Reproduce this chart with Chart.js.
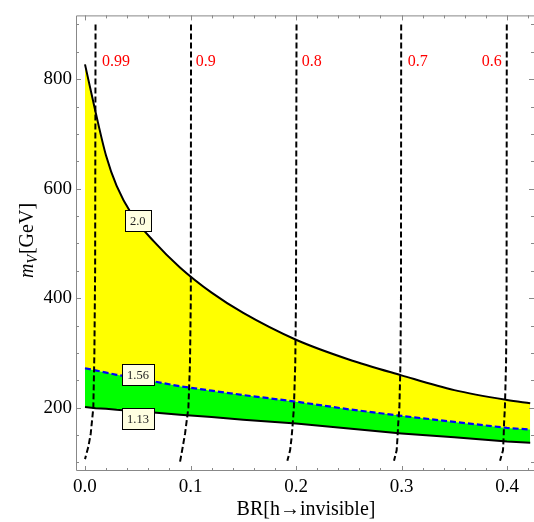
<!DOCTYPE html>
<html><head><meta charset="utf-8">
<script src="https://cdn.jsdelivr.net/npm/chart.js@4"></script>
<style>html,body{margin:0;padding:0;background:#fff}</style>
</head><body>
<canvas id="c" width="534" height="522"></canvas>
<script>
// ---- data ----
const brX    = [0, 0.01, 0.02, 0.03, 0.045, 0.065, 0.09, 0.12, 0.15, 0.2, 0.25, 0.3, 0.35, 0.4, 0.422];
const mUpper = [827, 740, 660, 605, 551, 504, 456, 410, 373, 324, 288, 259, 232, 214, 208];   // contour 2.0
const mMid   = [272, 268, 264, 260, 255, 248, 239, 231, 223, 211, 197, 185, 174, 163, 160];   // contour 1.56
const mLower = [201, 199, 198, 196, 194, 191, 187, 183, 178, 171, 162, 153, 146, 138, 136];   // contour 1.13

const c099x = [0.0100, 0.0096, 0.0089, 0.0079, 0.0054, 0.0031, 0.0];
const c099y = [900, 450, 300, 200, 152, 128, 106];
const c09x  = [0.1005, 0.1003, 0.0995, 0.0980, 0.0948, 0.0926, 0.0900];
const c09y  = [900, 400, 280, 200, 152, 128, 100];
const cYs   = [900, 400, 280, 200, 171, 145, 122, 103];
const c08x  = [0.2005, 0.2000, 0.1993, 0.1980, 0.1969, 0.1958, 0.1944, 0.1918];
const c07x  = [0.2997, 0.2995, 0.2990, 0.2980, 0.2969, 0.2962, 0.2954, 0.2929];
const c06x  = [0.3998, 0.3996, 0.3991, 0.3980, 0.3972, 0.3968, 0.3962, 0.3934];
const contourNames = ['0.99', '0.9', '0.8', '0.7', '0.6'];
const bandNames = ['2.0', '1.56', '1.13'];

const xTicks = [0, 0.1, 0.2, 0.3, 0.4];
const yTicks = [200, 400, 600, 800];

// ---- helpers ----
const pts = (xs, ys) => xs.map((v, i) => ({x: v, y: ys[i]}));
const dashed = (xs, ys) => ({data: pts(xs, ys), showLine: true, borderColor: '#000', borderWidth: 2,
  borderDash: [6, 3], pointRadius: 0, fill: false, tension: 0, order: 0});

// annotation placement (data coordinates)
const redLabels = [
  {t: contourNames[0], x: 0.0160, y: 831, align: 'left'},
  {t: contourNames[1], x: 0.1050, y: 831, align: 'left'},
  {t: contourNames[2], x: 0.2054, y: 831, align: 'left'},
  {t: contourNames[3], x: 0.3059, y: 831, align: 'left'},
  {t: contourNames[4], x: 0.3950, y: 831, align: 'right'}
];
const boxLabels = [
  {t: bandNames[0], x: 0.0500, y: 542},
  {t: bandNames[1], x: 0.0502, y: 261},
  {t: bandNames[2], x: 0.0502, y: 180.5}
];

const SERIF = '"Liberation Serif", "DejaVu Serif", serif';
const FRAME = '#888';

const decor = {
  id: 'decor',
  afterDatasetsDraw(chart) {
    const {ctx, scales: {x, y}} = chart;
    ctx.save();
    ctx.fillStyle = '#f00';
    ctx.font = '16px ' + SERIF;
    ctx.textBaseline = 'middle';
    redLabels.forEach(l => {
      ctx.textAlign = l.align;
      ctx.fillText(l.t, x.getPixelForValue(l.x), y.getPixelForValue(l.y));
    });
    ctx.font = '12.5px ' + SERIF;
    ctx.textAlign = 'center';
    boxLabels.forEach(l => {
      const cx = x.getPixelForValue(l.x), cy = y.getPixelForValue(l.y);
      const w = Math.round(ctx.measureText(l.t).width + 10), h = 21;
      const bx = Math.round(cx - w / 2) + 0.5, by = Math.round(cy - h / 2) + 0.5;
      ctx.fillStyle = '#ffffe0';
      ctx.fillRect(bx, by, w, h);
      ctx.strokeStyle = '#000';
      ctx.lineWidth = 1;
      ctx.strokeRect(bx, by, w, h);
      ctx.fillStyle = '#222';
      ctx.fillText(l.t, cx, cy + 1);
    });
    ctx.restore();
  },
  afterDraw(chart) {
    const {ctx, chartArea: a, scales: {x, y}} = chart;
    ctx.save();
    ctx.strokeStyle = FRAME;
    ctx.lineWidth = 1;
    ctx.beginPath();
    ctx.moveTo(a.left + 0.5, a.top + 0.5); ctx.lineTo(a.left + 0.5, a.bottom - 0.5);
    ctx.lineTo(a.right, a.bottom - 0.5);
    ctx.moveTo(a.left + 0.5, a.top + 0.5); ctx.lineTo(a.right, a.top + 0.5);
    ctx.stroke();
    ctx.beginPath();
    for (let k = 0; k <= 21; k++) {
      const v = k * 0.02;
      const px = Math.round(x.getPixelForValue(v)) + 0.5;
      const L = k % 5 === 0 ? 5 : 3;
      ctx.moveTo(px, a.bottom); ctx.lineTo(px, a.bottom - L);
      ctx.moveTo(px, a.top); ctx.lineTo(px, a.top + L);
    }
    for (let v = 100; v <= 900; v += 50) {
      const py = Math.round(y.getPixelForValue(v)) + 0.5;
      const L = v % 200 === 0 ? 5 : 3;
      ctx.moveTo(a.left, py); ctx.lineTo(a.left + L, py);
      ctx.moveTo(a.right, py); ctx.lineTo(a.right - L, py);
    }
    ctx.stroke();
    ctx.fillStyle = '#000';
    ctx.textBaseline = 'alphabetic';
    ctx.textAlign = 'center';
    ctx.font = '20px ' + SERIF;
    ctx.fillText('BR[h\u2192invisible]', 306, 515);
    ctx.translate(33, 241);
    ctx.rotate(-Math.PI / 2);
    ctx.textAlign = 'left';
    const fM = 'italic 20px ' + SERIF, fS = 'italic 14px ' + SERIF, fN = '20px ' + SERIF;
    ctx.font = fM; const wm = ctx.measureText('m').width;
    ctx.font = fS; const wv = ctx.measureText('V').width;
    ctx.font = fN; const wg = ctx.measureText('[GeV]').width;
    let sx = -(wm + wv + wg) / 2;
    ctx.font = fM; ctx.fillText('m', sx, 0); sx += wm;
    ctx.font = fS; ctx.fillText('V', sx, 4); sx += wv + 1;
    ctx.font = fN; ctx.fillText('[GeV]', sx, 0);
    ctx.restore();
  }
};

new Chart(document.getElementById('c'), {
  type: 'scatter',
  data: {
    datasets: [
      {label: bandNames[2], data: pts(brX, mLower), showLine: true, borderColor: '#000', borderWidth: 2,
       pointRadius: 0, fill: false, order: 1},
      {label: bandNames[1], data: pts(brX, mMid), showLine: true, borderColor: '#0000ff', borderWidth: 2.2,
       borderDash: [6, 3], pointRadius: 0, fill: 0, backgroundColor: '#00ff00', order: 1},
      {label: bandNames[0], data: pts(brX, mUpper), showLine: true, borderColor: '#000', borderWidth: 2,
       pointRadius: 0, fill: 1, backgroundColor: '#ffff00', order: 1, cubicInterpolationMode: 'monotone'},
      dashed(c099x, c099y),
      dashed(c09x, c09y),
      dashed(c08x, cYs),
      dashed(c07x, cYs),
      dashed(c06x, cYs)
    ]
  },
  options: {
    responsive: false,
    animation: false,
    devicePixelRatio: 1,
    layout: {padding: {top: 10, left: 0, right: 0, bottom: 0}},
    plugins: {legend: {display: false}, tooltip: {enabled: false}, filler: {drawTime: 'beforeDatasetsDraw'}},
    scales: {
      x: {
        type: 'linear', min: -0.00853, max: 0.42559,
        grid: {display: false, drawTicks: false},
        border: {display: false},
        afterBuildTicks: s => { s.ticks = xTicks.map(v => ({value: v})); },
        afterFit: s => { s.height = 51; },
        ticks: {color: '#000', padding: 5, maxRotation: 0, autoSkip: false,
                font: {family: SERIF, size: 19}, callback: v => Number(v).toFixed(1)}
      },
      y: {
        type: 'linear', min: 84.3, max: 916.4,
        grid: {display: false, drawTicks: false},
        border: {display: false},
        afterBuildTicks: s => { s.ticks = yTicks.map(v => ({value: v})); },
        afterFit: s => { s.width = 76; },
        ticks: {color: '#000', padding: 4, autoSkip: false,
                font: {family: SERIF, size: 19}, callback: v => String(v)}
      }
    }
  },
  plugins: [decor]
});
</script>
</body></html>
